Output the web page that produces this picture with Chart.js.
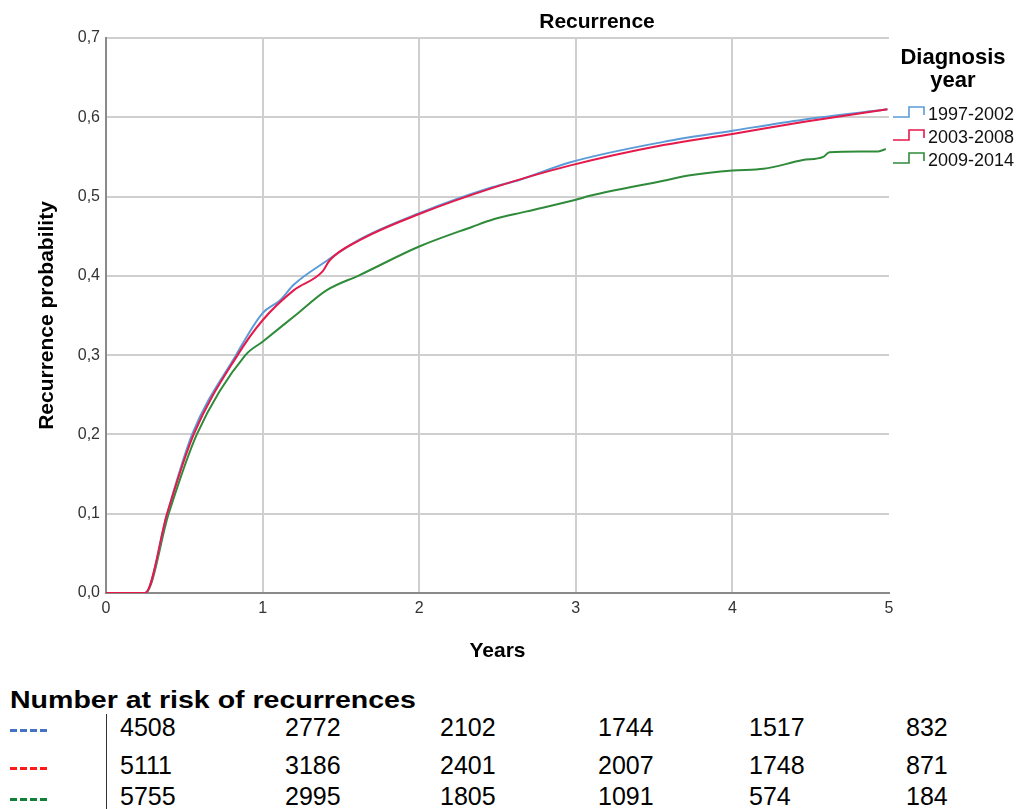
<!DOCTYPE html>
<html>
<head>
<meta charset="utf-8">
<script src="https://cdn.jsdelivr.net/npm/chart.js@4"></script>
<style>
    body { margin: 0; background: #fff; font-family: "Liberation Sans", Arial, sans-serif; color: #000; }
    #wrap { position: relative; width: 1025px; height: 809px; overflow: hidden; }
    #chart { position: absolute; left: 0; top: 0; }
    .risk-title { position: absolute; left: 10px; top: 689px; font-size: 23px; line-height: 1; font-weight: bold;
                  white-space: nowrap; transform: scaleX(1.24); transform-origin: left top; }
    .risk-sep { position: absolute; left: 106px; top: 714px; width: 1px; height: 95px; background: #333; }
    .risk-dash { position: absolute; left: 10px; width: 37px; height: 3px; }
    .risk-num { position: absolute; font-size: 25px; line-height: 1; white-space: nowrap; }
</style>
</head>
<body>
<div id="wrap">
    <canvas id="chart" width="1025" height="680"></canvas>
    <div class="risk-title">Number at risk of recurrences</div>
    <div class="risk-sep"></div>
    <div id="riskRows"></div>
</div>
<script>
// Données (temps en années, probabilité cumulée)
const groupLabels = ['1997-2002', '2003-2008', '2009-2014'];

const blueT = [0, 0.25, 0.39, 0.55, 0.83, 1.0, 1.11, 1.2, 1.41, 1.62, 2.0, 2.47, 2.64, 2.96, 3.56, 4.0, 4.45, 4.99];
const blueP = [0, 0, 0.10, 0.20, 0.30, 0.353, 0.369, 0.389, 0.419, 0.446, 0.479, 0.512, 0.521, 0.543, 0.569, 0.583, 0.597, 0.610];

const redT = [0, 0.25, 0.39, 0.56, 0.84, 1.0, 1.2, 1.38, 1.43, 1.62, 2.0, 2.47, 2.96, 3.56, 4.0, 4.45, 4.99];
const redP = [0, 0, 0.10, 0.20, 0.30, 0.344, 0.382, 0.405, 0.420, 0.445, 0.478, 0.511, 0.539, 0.565, 0.579, 0.594, 0.610];

const greenT = [0, 0.25, 0.40, 0.58, 0.89, 1.0, 1.22, 1.41, 1.62, 2.0, 2.34, 2.47, 2.68, 3.0, 3.09, 3.56, 3.73, 4.0, 4.2, 4.45, 4.58, 4.62, 4.93, 4.98];
const greenP = [0, 0, 0.10, 0.20, 0.30, 0.317, 0.352, 0.382, 0.401, 0.437, 0.462, 0.471, 0.481, 0.496, 0.501, 0.520, 0.527, 0.533, 0.535, 0.546, 0.550, 0.556, 0.557, 0.560];

const xTickLabels = ['0', '1', '2', '3', '4', '5'];
const yTickLabels = ['0,0', '0,1', '0,2', '0,3', '0,4', '0,5', '0,6', '0,7'];

// Nombre à risque
const riskBlue = [4508, 2772, 2102, 1744, 1517, 832];
const riskRed = [5111, 3186, 2401, 2007, 1748, 871];
const riskGreen = [5755, 2995, 1805, 1091, 574, 184];

const lineColors = ['#5b9bd8', '#e5194a', '#2f8b3a'];
const dashColors = ['#4472c4', '#ff1a1a', '#13803a'];

function toPoints(ts, ps) {
    return ts.map((t, i) => ({ x: t, y: ps[i] }));
}

const FONT = '"Liberation Sans", Arial, sans-serif';

// Titre et légende dessinés à la main
const extrasPlugin = {
    id: 'extras',
    afterDraw(chart) {
        const ctx = chart.ctx;
        ctx.save();
        ctx.fillStyle = '#000';
        ctx.textAlign = 'center';
        ctx.textBaseline = 'middle';
        ctx.font = 'bold 21px ' + FONT;
        ctx.fillText('Recurrence', 597, 22);

        ctx.font = 'bold 22px ' + FONT;
        ctx.fillText('Diagnosis', 953, 58);
        ctx.fillText('year', 953, 81);

        const rowsY = [114, 137, 160];
        ctx.textAlign = 'left';
        ctx.font = '18px ' + FONT;
        groupLabels.forEach((label, i) => {
            const c = rowsY[i];
            ctx.strokeStyle = lineColors[i];
            ctx.lineWidth = 1.6;
            ctx.beginPath();
            ctx.moveTo(893, c + 3);
            ctx.lineTo(909, c + 3);
            ctx.lineTo(909, c - 7);
            ctx.lineTo(924, c - 7);
            ctx.lineTo(924, c + 1);
            ctx.stroke();
            ctx.fillStyle = '#111';
            ctx.fillText(label, 928, c + 1);
        });
        ctx.restore();
    }
};

const chart = new Chart(document.getElementById('chart').getContext('2d'), {
    type: 'line',
    data: {
        datasets: [
            { label: groupLabels[0], data: toPoints(blueT, blueP), borderColor: lineColors[0], order: 1 },
            { label: groupLabels[1], data: toPoints(redT, redP), borderColor: lineColors[1], order: 0 },
            { label: groupLabels[2], data: toPoints(greenT, greenP), borderColor: lineColors[2], order: 2 }
        ]
    },
    options: {
        responsive: false,
        animation: false,
        layout: { padding: { top: 38, right: 136, bottom: 0, left: 0 } },
        elements: {
            point: { radius: 0 },
            line: { borderWidth: 2, cubicInterpolationMode: 'monotone', fill: false }
        },
        plugins: {
            legend: { display: false },
            title: { display: false },
            tooltip: { enabled: false }
        },
        scales: {
            x: {
                type: 'linear',
                min: 0,
                max: 5,
                afterFit: (scale) => { scale.height = 87; },
                ticks: {
                    stepSize: 1,
                    padding: 6,
                    color: '#333',
                    font: { family: FONT, size: 16 },
                    callback: (v) => xTickLabels[v]
                },
                grid: {
                    color: (c) => (c.tick && c.tick.value === 5 ? 'rgba(0,0,0,0)' : '#cfcfcf'),
                    lineWidth: 2,
                    drawTicks: false
                },
                border: { color: '#8a8a8a', width: 2 },
                title: {
                    display: true,
                    text: 'Years',
                    color: '#000',
                    font: { family: FONT, size: 21, weight: 'bold' },
                    padding: { top: 0, bottom: 16 }
                }
            },
            y: {
                min: 0,
                max: 0.7,
                afterFit: (scale) => { scale.width = 106; },
                ticks: {
                    stepSize: 0.1,
                    padding: 6,
                    color: '#333',
                    font: { family: FONT, size: 16 },
                    callback: (v) => yTickLabels[Math.round(v * 10)]
                },
                grid: { color: '#cfcfcf', lineWidth: 2, drawTicks: false },
                border: { color: '#8a8a8a', width: 2 },
                title: {
                    display: true,
                    text: 'Recurrence probability',
                    color: '#000',
                    font: { family: FONT, size: 21, weight: 'bold' },
                    padding: { top: 35, bottom: 0 }
                }
            }
        }
    },
    plugins: [extrasPlugin]
});

// Tableau du nombre à risque
const riskRows = [riskBlue, riskRed, riskGreen];
const rowCenters = [727, 765, 796];
const colLeft = [120, 285, 440, 598, 749, 906];
const rowsEl = document.getElementById('riskRows');
riskRows.forEach((row, r) => {
    const dash = document.createElement('div');
    dash.className = 'risk-dash';
    dash.style.top = (rowCenters[r] + 2) + 'px';
    dash.style.background = 'repeating-linear-gradient(to right, ' + dashColors[r] + ' 0 7px, transparent 7px 10px)';
    rowsEl.appendChild(dash);
    row.forEach((n, c) => {
        const el = document.createElement('div');
        el.className = 'risk-num';
        el.textContent = n;
        el.style.left = colLeft[c] + 'px';
        el.style.top = (rowCenters[r] - 12) + 'px';
        rowsEl.appendChild(el);
    });
});
</script>
</body>
</html>
